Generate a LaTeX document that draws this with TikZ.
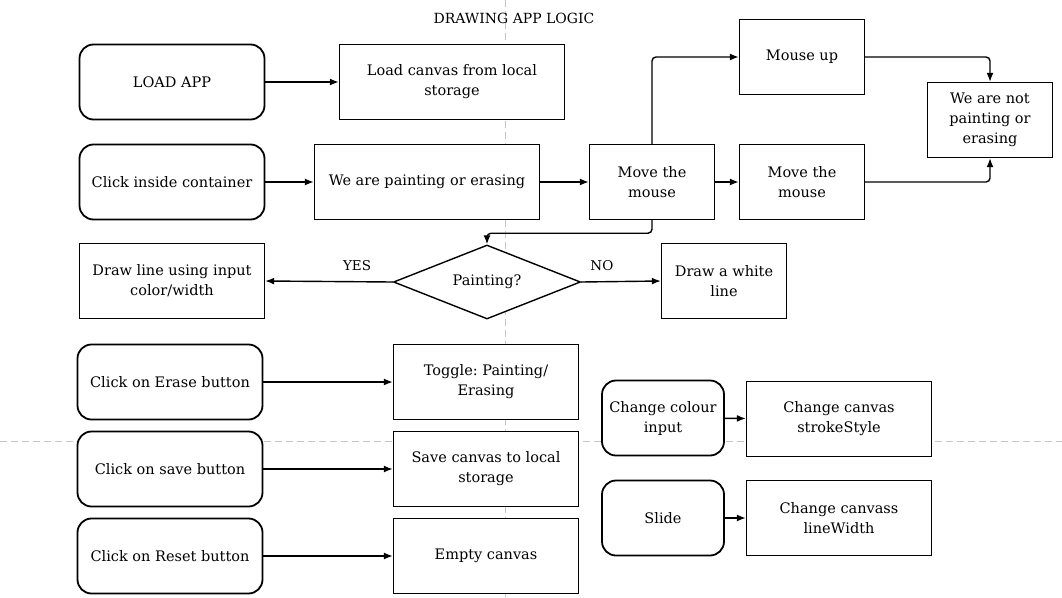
\documentclass[tikz,border=0pt]{standalone}
\usepackage{fontspec}
\setmainfont{DejaVu Serif}
\usepackage{tikz}
\usetikzlibrary{arrows.meta,shapes.geometric}
\frenchspacing

\begin{document}
\begin{tikzpicture}[x=1pt,y=-1pt]
% Default looks for each node
\tikzstyle{every node}=[font=\fontsize{14.5}{20}\selectfont, align=center];
\tikzstyle{start} = [draw, fill=white, line width=1.8pt, rounded corners=14pt, minimum width=185pt, minimum height=75pt]
\tikzstyle{process} = [draw, fill=white, line width=1.4pt, minimum width=185pt, minimum height=75pt]
\tikzstyle{decision} = [draw, fill=white, line width=1.4pt, diamond, aspect=2.5, inner sep=0pt, minimum width=187pt, minimum height=74pt]
\tikzstyle{edge} = [draw, line width=1.4pt, rounded corners=4pt, -{Latex[length=9pt,width=7pt]}]
\tikzstyle{answer} = [font=\fontsize{13.5}{16}\selectfont, draw=none, fill=none]
\tikzstyle{pagebreak} = [draw, gray!45, line width=0.8pt, dash pattern=on 7pt off 4pt]
\useasboundingbox (0,0) rectangle (1062,597);
% Page break guides behind the chart
\draw [pagebreak] (505,0) -- (505,597);
\draw [pagebreak] (0,441) -- (1062,441);
\node [font=\fontsize{14}{18}\selectfont] (title) at (514,18) {DRAWING APP LOGIC};
% Loading and painting
\node [start] (loadapp) at (172,82) {LOAD APP};
\node [process, minimum width=225pt] (loadcanvas) at (452,82) {Load canvas from local\\storage};
\node [start] (click) at (172,182) {Click inside container};
\node [process, minimum width=225pt] (painting) at (427,182) {We are painting or erasing};
\node [process, minimum width=125pt] (movefirst) at (652,182) {Move the\\mouse};
\node [process, minimum width=125pt] (movesecond) at (802,182) {Move the\\mouse};
\node [process, minimum width=125pt] (mouseup) at (802,57) {Mouse up};
\node [process, minimum width=125pt] (notpainting) at (990,120) {We are not\\painting or\\erasing};
\node [decision] (ispainting) at (487,282) {Painting?};
\node [process] (drawline) at (172,281) {Draw line using input\\color/width};
\node [process, minimum width=125pt] (drawwhite) at (724,281) {Draw a white\\line};
% Buttons and inputs
\node [start] (erase) at (170,382) {Click on Erase button};
\node [process] (toggle) at (486,382) {Toggle: Painting/\\Erasing};
\node [start] (save) at (170,469) {Click on save button};
\node [process] (savecanvas) at (486,469) {Save canvas to local\\storage};
\node [start] (reset) at (170,556) {Click on Reset button};
\node [process] (empty) at (486,556) {Empty canvas};
\node [start, minimum width=122pt] (colour) at (663,418) {Change colour\\input};
\node [process] (stroke) at (839,419) {Change canvas\\strokeStyle};
\node [start, minimum width=122pt] (slide) at (663,518) {Slide};
\node [process] (linewidth) at (839,518) {Change canvass\\lineWidth};
% Draw the connectors
\draw [edge] (loadapp) -- (loadcanvas);
\draw [edge] (click) -- (painting);
\draw [edge] (painting) -- (movefirst);
\draw [edge] (movefirst) -- (movesecond);
\draw [edge] (movefirst.north) |- (mouseup.west);
\draw [edge] (mouseup.east) -| (notpainting.north);
\draw [edge] (movesecond.east) -| (notpainting.south);
\draw [edge] (movefirst.south) -- ++(0,13) -| (ispainting.north);
\draw [edge] (ispainting.west) -- node[answer, pos=0.28, above=7pt] {YES} (drawline.east);
\draw [edge] (ispainting.east) -- node[answer, pos=0.26, above=7pt] {NO} (drawwhite.west);
\draw [edge] (erase) -- (toggle);
\draw [edge] (save) -- (savecanvas);
\draw [edge] (reset) -- (empty);
\draw [edge] (colour) -- (stroke);
\draw [edge] (slide) -- (linewidth);
\end{tikzpicture}
\end{document}
